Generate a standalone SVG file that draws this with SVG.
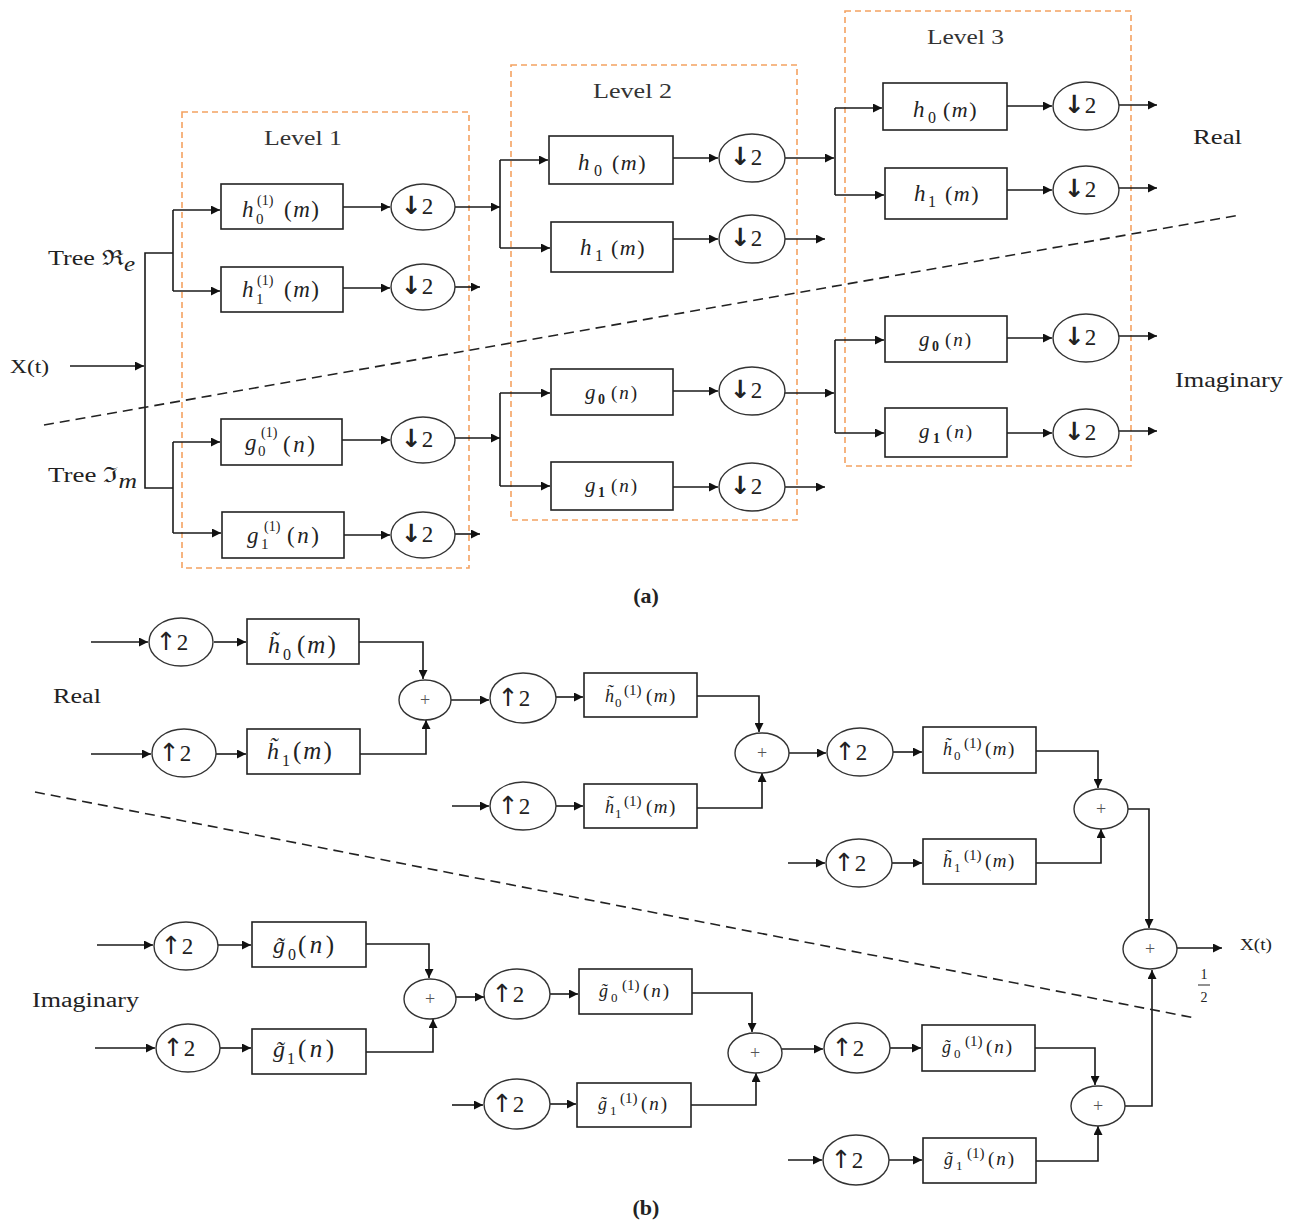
<svg xmlns="http://www.w3.org/2000/svg" width="1295" height="1225" viewBox="0 0 1295 1225">
<style>
.box{fill:#fff;stroke:#222;stroke-width:1.6}
.cir{fill:#fff;stroke:#333;stroke-width:1.4}
.lvl{fill:none;stroke:#F4A261;stroke-width:1.6;stroke-dasharray:6 4}
.w{fill:none;stroke:#1a1a1a;stroke-width:1.6}
.a{marker-end:url(#ah)}
.dash{fill:none;stroke:#222;stroke-width:1.6;stroke-dasharray:10 6}
.t{font-family:"Liberation Serif","DejaVu Serif",serif;fill:#222}
.i{font-style:italic}
.ca{font-family:"Liberation Serif",serif;font-size:23px;fill:#222;text-anchor:middle}
.ar{font-family:"DejaVu Sans",sans-serif;font-weight:bold;font-size:25px}
.au{font-family:"DejaVu Sans",sans-serif;font-size:25px}
.pl{font-family:"Liberation Serif",serif;font-size:18px;fill:#555;text-anchor:middle}
.lv{font-family:"Liberation Serif",serif;font-size:22px;fill:#333}
</style>
<defs>
<marker id="ah" viewBox="0 0 10 10" refX="10" refY="5" markerWidth="12" markerHeight="9" markerUnits="userSpaceOnUse" orient="auto"><path d="M0,0 L10,5 L0,10 z" fill="#111"/></marker>
</defs>
<rect width="1295" height="1225" fill="#fff"/>

<!-- level boxes -->
<g id="level1"><rect class="lvl" x="182" y="112" width="287" height="456"/><text class="lv" x="264" y="145" textLength="78" lengthAdjust="spacingAndGlyphs">Level 1</text></g>
<g id="level2"><rect class="lvl" x="511" y="65" width="286" height="455"/><text class="lv" x="593" y="98" textLength="79" lengthAdjust="spacingAndGlyphs">Level 2</text></g>
<g id="level3"><rect class="lvl" x="845" y="11" width="286" height="455"/><text class="lv" x="927" y="44" textLength="77" lengthAdjust="spacingAndGlyphs">Level 3</text></g>

<!-- labels part a -->
<g id="labels-a">
<text class="t" x="10" y="373" font-size="19" textLength="39" lengthAdjust="spacingAndGlyphs">X(t)</text>
<text class="t" x="48" y="265" font-size="21" textLength="87" lengthAdjust="spacingAndGlyphs">Tree ℜ<tspan class="i" dy="6" font-size="20">e</tspan></text>
<text class="t" x="48" y="482" font-size="21" textLength="89" lengthAdjust="spacingAndGlyphs">Tree ℑ<tspan class="i" dy="6" font-size="20">m</tspan></text>
<text class="t" x="1193" y="144" font-size="21" textLength="49" lengthAdjust="spacingAndGlyphs">Real</text>
<text class="t" x="1175" y="387" font-size="21" textLength="108" lengthAdjust="spacingAndGlyphs">Imaginary</text>
<text class="t" x="646" y="603" font-size="22" font-weight="bold" text-anchor="middle">(a)</text>
</g>

<!-- connectors -->
<g id="connectors">
<path class="w a" d="M70,366 H144"/>
<path class="w" d="M173,253 H145 V488 H173"/>
<path class="w" d="M173,210 V291"/>
<path class="w a" d="M173,210 H220"/>
<path class="w a" d="M173,291 H220"/>
<path class="w a" d="M343,207 H390"/>
<path class="w a" d="M343,288 H390"/>
<path class="w a" d="M455,207 H500"/>
<path class="w a" d="M455,287 H480"/>
<path class="w" d="M173,442 V533"/>
<path class="w a" d="M173,442 H220"/>
<path class="w a" d="M173,533 H221"/>
<path class="w a" d="M342,440 H390"/>
<path class="w a" d="M344,535 H390"/>
<path class="w a" d="M455,438 H500"/>
<path class="w a" d="M455,534 H480"/>
<path class="w" d="M500,160 V248"/>
<path class="w a" d="M500,160 H548"/>
<path class="w a" d="M500,248 H550"/>
<path class="w" d="M500,393 V486"/>
<path class="w a" d="M500,393 H550"/>
<path class="w a" d="M500,486 H550"/>
<path class="w a" d="M673,158 H718"/>
<path class="w a" d="M673,239 H718"/>
<path class="w a" d="M673,391 H718"/>
<path class="w a" d="M673,487 H718"/>
<path class="w a" d="M785,158 H834"/>
<path class="w a" d="M785,239 H825"/>
<path class="w a" d="M785,393 H834"/>
<path class="w a" d="M785,487 H825"/>
<path class="w" d="M835,108 V195"/>
<path class="w a" d="M835,108 H882"/>
<path class="w a" d="M835,195 H884"/>
<path class="w" d="M835,340 V433"/>
<path class="w a" d="M835,340 H884"/>
<path class="w a" d="M835,433 H884"/>
<path class="w a" d="M1007,106 H1052"/>
<path class="w a" d="M1007,190 H1052"/>
<path class="w a" d="M1007,338 H1052"/>
<path class="w a" d="M1007,433 H1052"/>
<path class="w a" d="M1119,105 H1157"/>
<path class="w a" d="M1119,188 H1157"/>
<path class="w a" d="M1119,336 H1157"/>
<path class="w a" d="M1119,431 H1157"/>
<path class="dash" d="M44,425 L1240,215"/>

<!-- part b -->
<path class="w a" d="M91,642 H148"/>
<path class="w a" d="M214,642 H246"/>
<path class="w a" d="M359,642 H423 V679"/>
<path class="w a" d="M91,754 H151"/>
<path class="w a" d="M216,754 H246"/>
<path class="w a" d="M360,754 H426 V720"/>
<path class="w a" d="M451,700 H489"/>
<path class="w a" d="M556,697 H583"/>
<path class="w a" d="M697,696 H759 V732"/>
<path class="w a" d="M452,806 H489"/>
<path class="w a" d="M556,806 H583"/>
<path class="w a" d="M697,808 H762 V773"/>
<path class="w a" d="M789,753 H826"/>
<path class="w a" d="M893,752 H922"/>
<path class="w a" d="M1036,751 H1098 V788"/>
<path class="w a" d="M788,863 H825"/>
<path class="w a" d="M892,863 H922"/>
<path class="w a" d="M1036,863 H1101 V829"/>
<path class="w a" d="M1128,809 H1149 V928"/>
<path class="w a" d="M1177,948 H1222"/>
<path class="w a" d="M97,945 H153"/>
<path class="w a" d="M218,945 H251"/>
<path class="w a" d="M366,944 H429 V978"/>
<path class="w a" d="M95,1048 H155"/>
<path class="w a" d="M220,1048 H251"/>
<path class="w a" d="M366,1052 H433 V1019"/>
<path class="w a" d="M456,997 H484"/>
<path class="w a" d="M550,994 H578"/>
<path class="w a" d="M692,993 H752 V1032"/>
<path class="w a" d="M452,1105 H483"/>
<path class="w a" d="M550,1104 H576"/>
<path class="w a" d="M691,1105 H756 V1073"/>
<path class="w a" d="M782,1049 H823"/>
<path class="w a" d="M890,1048 H921"/>
<path class="w a" d="M1035,1048 H1095 V1085"/>
<path class="w a" d="M788,1160 H822"/>
<path class="w a" d="M889,1160 H922"/>
<path class="w a" d="M1036,1161 H1098 V1126"/>
<path class="w a" d="M1125,1106 H1152 V970"/>
<path class="dash" d="M35,792 L1195,1018"/>
</g>

<!-- Part a nodes: Level 1 -->
<g id="h0_1"><rect class="box" x="221" y="184" width="122" height="45"/>
<text class="t"><tspan class="i" x="242" y="217" font-size="23">h</tspan><tspan x="256" y="224" font-size="15">0</tspan><tspan x="257" y="205" font-size="14">(1)</tspan><tspan x="284" y="217" font-size="23" letter-spacing="1.5">(<tspan class="i">m</tspan>)</tspan></text></g>
<g id="d1"><ellipse class="cir" cx="423" cy="207" rx="32" ry="23"/><text class="ca" x="417" y="214"><tspan class="ar">↓</tspan>2</text></g>
<g id="h1_1"><rect class="box" x="221" y="267" width="122" height="45"/>
<text class="t"><tspan class="i" x="242" y="297" font-size="23">h</tspan><tspan x="256" y="304" font-size="15">1</tspan><tspan x="257" y="285" font-size="14">(1)</tspan><tspan x="284" y="297" font-size="23" letter-spacing="1.5">(<tspan class="i">m</tspan>)</tspan></text></g>
<g id="d2"><ellipse class="cir" cx="423" cy="287" rx="32" ry="23"/><text class="ca" x="417" y="294"><tspan class="ar">↓</tspan>2</text></g>
<g id="g0_1"><rect class="box" x="221" y="419" width="121" height="46"/>
<text class="t"><tspan class="i" x="245" y="450" font-size="23">g</tspan><tspan x="258" y="456" font-size="15">0</tspan><tspan x="261" y="437" font-size="14">(1)</tspan><tspan x="283" y="452" font-size="23" letter-spacing="2.5">(<tspan class="i">n</tspan>)</tspan></text></g>
<g id="d3"><ellipse class="cir" cx="423" cy="440" rx="32" ry="23"/><text class="ca" x="417" y="447"><tspan class="ar">↓</tspan>2</text></g>
<g id="g1_1"><rect class="box" x="222" y="512" width="122" height="46"/>
<text class="t"><tspan class="i" x="247" y="543" font-size="23">g</tspan><tspan x="261" y="549" font-size="15">1</tspan><tspan x="264" y="531" font-size="14">(1)</tspan><tspan x="287" y="543" font-size="23" letter-spacing="2.5">(<tspan class="i">n</tspan>)</tspan></text></g>
<g id="d4"><ellipse class="cir" cx="423" cy="535" rx="32" ry="23"/><text class="ca" x="417" y="542"><tspan class="ar">↓</tspan>2</text></g>

<!-- Level 2 -->
<g id="h0_2"><rect class="box" x="549" y="136" width="124" height="48"/>
<text class="t"><tspan class="i" x="578" y="170" font-size="23">h</tspan><tspan x="594" y="176" font-size="16">0</tspan><tspan x="612" y="170" font-size="22" letter-spacing="1.5">(<tspan class="i">m</tspan>)</tspan></text></g>
<g id="d5"><ellipse class="cir" cx="752" cy="158" rx="33" ry="24"/><text class="ca" x="746" y="165"><tspan class="ar">↓</tspan>2</text></g>
<g id="h1_2"><rect class="box" x="551" y="222" width="122" height="50"/>
<text class="t"><tspan class="i" x="580" y="255" font-size="23">h</tspan><tspan x="595" y="261" font-size="16">1</tspan><tspan x="611" y="255" font-size="22" letter-spacing="1.5">(<tspan class="i">m</tspan>)</tspan></text></g>
<g id="d6"><ellipse class="cir" cx="752" cy="239" rx="33" ry="24"/><text class="ca" x="746" y="246"><tspan class="ar">↓</tspan>2</text></g>
<g id="g0_2"><rect class="box" x="551" y="369" width="122" height="46"/>
<text class="t"><tspan class="i" x="585" y="399" font-size="21">g</tspan><tspan x="598" y="404" font-size="14" font-weight="bold">0</tspan><tspan x="611" y="399" font-size="19" letter-spacing="2">(<tspan class="i">n</tspan>)</tspan></text></g>
<g id="d7"><ellipse class="cir" cx="752" cy="391" rx="33" ry="24"/><text class="ca" x="746" y="398"><tspan class="ar">↓</tspan>2</text></g>
<g id="g1_2"><rect class="box" x="551" y="462" width="122" height="48"/>
<text class="t"><tspan class="i" x="585" y="492" font-size="21">g</tspan><tspan x="598" y="497" font-size="14" font-weight="bold">1</tspan><tspan x="611" y="492" font-size="19" letter-spacing="2">(<tspan class="i">n</tspan>)</tspan></text></g>
<g id="d8"><ellipse class="cir" cx="752" cy="487" rx="33" ry="24"/><text class="ca" x="746" y="494"><tspan class="ar">↓</tspan>2</text></g>

<!-- Level 3 -->
<g id="h0_3"><rect class="box" x="883" y="83" width="124" height="47"/>
<text class="t"><tspan class="i" x="913" y="117" font-size="23">h</tspan><tspan x="928" y="123" font-size="16">0</tspan><tspan x="943" y="117" font-size="22" letter-spacing="1.5">(<tspan class="i">m</tspan>)</tspan></text></g>
<g id="d9"><ellipse class="cir" cx="1086" cy="106" rx="33" ry="24"/><text class="ca" x="1080" y="113"><tspan class="ar">↓</tspan>2</text></g>
<g id="h1_3"><rect class="box" x="885" y="168" width="122" height="51"/>
<text class="t"><tspan class="i" x="914" y="201" font-size="23">h</tspan><tspan x="928" y="207" font-size="16">1</tspan><tspan x="945" y="201" font-size="22" letter-spacing="1.5">(<tspan class="i">m</tspan>)</tspan></text></g>
<g id="d10"><ellipse class="cir" cx="1086" cy="190" rx="33" ry="24"/><text class="ca" x="1080" y="197"><tspan class="ar">↓</tspan>2</text></g>
<g id="g0_3"><rect class="box" x="885" y="316" width="122" height="46"/>
<text class="t"><tspan class="i" x="919" y="346" font-size="21">g</tspan><tspan x="932" y="351" font-size="14" font-weight="bold">0</tspan><tspan x="945" y="346" font-size="19" letter-spacing="2">(<tspan class="i">n</tspan>)</tspan></text></g>
<g id="d11"><ellipse class="cir" cx="1086" cy="338" rx="33" ry="24"/><text class="ca" x="1080" y="345"><tspan class="ar">↓</tspan>2</text></g>
<g id="g1_3"><rect class="box" x="885" y="408" width="122" height="49"/>
<text class="t"><tspan class="i" x="919" y="438" font-size="21">g</tspan><tspan x="933" y="443" font-size="14" font-weight="bold">1</tspan><tspan x="946" y="438" font-size="19" letter-spacing="2">(<tspan class="i">n</tspan>)</tspan></text></g>
<g id="d12"><ellipse class="cir" cx="1086" cy="433" rx="33" ry="24"/><text class="ca" x="1080" y="440"><tspan class="ar">↓</tspan>2</text></g>

<!-- Part b labels -->
<g id="labels-b">
<text class="t" x="53" y="703" font-size="20" textLength="48" lengthAdjust="spacingAndGlyphs">Real</text>
<text class="t" x="32" y="1007" font-size="20" textLength="107" lengthAdjust="spacingAndGlyphs">Imaginary</text>
<text class="t" x="1240" y="950" font-size="16" textLength="32" lengthAdjust="spacingAndGlyphs">X(t)</text>
<text class="t" font-size="14" text-anchor="middle"><tspan x="1204" y="979">1</tspan><tspan x="1204" y="1002">2</tspan></text>
<path d="M1198,985 H1210" stroke="#222" stroke-width="1"/>
<text class="t" x="646" y="1215" font-size="22" font-weight="bold" text-anchor="middle">(b)</text>
</g>

<!-- Part b nodes: real -->
<g id="u1"><ellipse class="cir" cx="181" cy="642" rx="32" ry="24"/><text class="ca" x="172" y="650"><tspan class="au">↑</tspan>2</text></g>
<g id="ht0"><rect class="box" x="247" y="619" width="112" height="45"/>
<text class="t"><tspan class="i" x="268" y="653" font-size="24">h&#x303;</tspan><tspan x="283" y="660" font-size="16">0</tspan><tspan x="297" y="653" font-size="25" letter-spacing="2">(<tspan class="i">m</tspan>)</tspan></text></g>
<g id="u2"><ellipse class="cir" cx="184" cy="753" rx="32" ry="24"/><text class="ca" x="175" y="761"><tspan class="au">↑</tspan>2</text></g>
<g id="ht1"><rect class="box" x="247" y="729" width="113" height="45"/>
<text class="t"><tspan class="i" x="267" y="759" font-size="24">h&#x303;</tspan><tspan x="282" y="766" font-size="16">1</tspan><tspan x="293" y="759" font-size="25" letter-spacing="2">(<tspan class="i">m</tspan>)</tspan></text></g>
<g id="s1"><ellipse class="cir" cx="425" cy="700" rx="26" ry="20"/><text class="pl" x="425" y="706">+</text></g>

<g id="u3"><ellipse class="cir" cx="523" cy="698" rx="33" ry="25"/><text class="ca" x="514" y="706"><tspan class="au">↑</tspan>2</text></g>
<g id="ht0_1"><rect class="box" x="584" y="673" width="113" height="44"/>
<text class="t"><tspan class="i" x="605" y="702" font-size="18">h&#x303;</tspan><tspan x="615" y="707" font-size="13">0</tspan><tspan x="624" y="695" font-size="15">(1)</tspan><tspan x="646" y="702" font-size="19" letter-spacing="1.5">(<tspan class="i">m</tspan>)</tspan></text></g>
<g id="u4"><ellipse class="cir" cx="523" cy="806" rx="33" ry="24"/><text class="ca" x="514" y="814"><tspan class="au">↑</tspan>2</text></g>
<g id="ht1_1"><rect class="box" x="584" y="784" width="113" height="44"/>
<text class="t"><tspan class="i" x="605" y="813" font-size="18">h&#x303;</tspan><tspan x="615" y="818" font-size="13">1</tspan><tspan x="624" y="806" font-size="15">(1)</tspan><tspan x="646" y="813" font-size="19" letter-spacing="1.5">(<tspan class="i">m</tspan>)</tspan></text></g>
<g id="s2"><ellipse class="cir" cx="762" cy="753" rx="27" ry="20"/><text class="pl" x="762" y="759">+</text></g>

<g id="u5"><ellipse class="cir" cx="860" cy="752" rx="33" ry="24"/><text class="ca" x="851" y="760"><tspan class="au">↑</tspan>2</text></g>
<g id="ht0_2"><rect class="box" x="923" y="727" width="113" height="46"/>
<text class="t"><tspan class="i" x="943" y="755" font-size="18">h&#x303;</tspan><tspan x="954" y="760" font-size="13">0</tspan><tspan x="964" y="748" font-size="15">(1)</tspan><tspan x="985" y="755" font-size="19" letter-spacing="1.5">(<tspan class="i">m</tspan>)</tspan></text></g>
<g id="u6"><ellipse class="cir" cx="859" cy="863" rx="33" ry="24"/><text class="ca" x="850" y="871"><tspan class="au">↑</tspan>2</text></g>
<g id="ht1_2"><rect class="box" x="923" y="839" width="113" height="45"/>
<text class="t"><tspan class="i" x="943" y="867" font-size="18">h&#x303;</tspan><tspan x="954" y="872" font-size="13">1</tspan><tspan x="964" y="860" font-size="15">(1)</tspan><tspan x="985" y="867" font-size="19" letter-spacing="1.5">(<tspan class="i">m</tspan>)</tspan></text></g>
<g id="s3"><ellipse class="cir" cx="1101" cy="809" rx="27" ry="20"/><text class="pl" x="1101" y="815">+</text></g>
<g id="sfinal"><ellipse class="cir" cx="1150" cy="949" rx="27" ry="20"/><text class="pl" x="1150" y="955">+</text></g>

<!-- Part b nodes: imaginary -->
<g id="u7"><ellipse class="cir" cx="186" cy="946" rx="32" ry="24"/><text class="ca" x="177" y="954"><tspan class="au">↑</tspan>2</text></g>
<g id="gt0"><rect class="box" x="252" y="922" width="114" height="45"/>
<text class="t"><tspan class="i" x="273" y="953" font-size="24">g&#x303;</tspan><tspan x="288" y="960" font-size="16">0</tspan><tspan x="298" y="953" font-size="25" letter-spacing="3.5">(<tspan class="i">n</tspan>)</tspan></text></g>
<g id="u8"><ellipse class="cir" cx="188" cy="1048" rx="32" ry="24"/><text class="ca" x="179" y="1056"><tspan class="au">↑</tspan>2</text></g>
<g id="gt1"><rect class="box" x="252" y="1029" width="114" height="45"/>
<text class="t"><tspan class="i" x="273" y="1057" font-size="24">g&#x303;</tspan><tspan x="287" y="1064" font-size="16">1</tspan><tspan x="298" y="1057" font-size="25" letter-spacing="3.5">(<tspan class="i">n</tspan>)</tspan></text></g>
<g id="s4"><ellipse class="cir" cx="430" cy="999" rx="26" ry="20"/><text class="pl" x="430" y="1005">+</text></g>

<g id="u9"><ellipse class="cir" cx="517" cy="994" rx="33" ry="25"/><text class="ca" x="508" y="1002"><tspan class="au">↑</tspan>2</text></g>
<g id="gt0_1"><rect class="box" x="579" y="969" width="113" height="45"/>
<text class="t"><tspan class="i" x="599" y="997" font-size="18">g&#x303;</tspan><tspan x="611" y="1002" font-size="13">0</tspan><tspan x="622" y="990" font-size="15">(1)</tspan><tspan x="643" y="997" font-size="19" letter-spacing="2">(<tspan class="i">n</tspan>)</tspan></text></g>
<g id="u10"><ellipse class="cir" cx="517" cy="1104" rx="33" ry="25"/><text class="ca" x="508" y="1112"><tspan class="au">↑</tspan>2</text></g>
<g id="gt1_1"><rect class="box" x="577" y="1083" width="114" height="44"/>
<text class="t"><tspan class="i" x="598" y="1110" font-size="18">g&#x303;</tspan><tspan x="610" y="1115" font-size="13">1</tspan><tspan x="620" y="1103" font-size="15">(1)</tspan><tspan x="641" y="1110" font-size="19" letter-spacing="2">(<tspan class="i">n</tspan>)</tspan></text></g>
<g id="s5"><ellipse class="cir" cx="755" cy="1053" rx="27" ry="20"/><text class="pl" x="755" y="1059">+</text></g>

<g id="u11"><ellipse class="cir" cx="857" cy="1048" rx="33" ry="25"/><text class="ca" x="848" y="1056"><tspan class="au">↑</tspan>2</text></g>
<g id="gt0_2"><rect class="box" x="922" y="1025" width="113" height="46"/>
<text class="t"><tspan class="i" x="942" y="1053" font-size="18">g&#x303;</tspan><tspan x="954" y="1058" font-size="13">0</tspan><tspan x="965" y="1046" font-size="15">(1)</tspan><tspan x="986" y="1053" font-size="19" letter-spacing="2">(<tspan class="i">n</tspan>)</tspan></text></g>
<g id="u12"><ellipse class="cir" cx="856" cy="1160" rx="33" ry="25"/><text class="ca" x="847" y="1168"><tspan class="au">↑</tspan>2</text></g>
<g id="gt1_2"><rect class="box" x="923" y="1138" width="113" height="45"/>
<text class="t"><tspan class="i" x="944" y="1165" font-size="18">g&#x303;</tspan><tspan x="956" y="1170" font-size="13">1</tspan><tspan x="967" y="1158" font-size="15">(1)</tspan><tspan x="988" y="1165" font-size="19" letter-spacing="2">(<tspan class="i">n</tspan>)</tspan></text></g>
<g id="s6"><ellipse class="cir" cx="1098" cy="1106" rx="27" ry="20"/><text class="pl" x="1098" y="1112">+</text></g>
</svg>
